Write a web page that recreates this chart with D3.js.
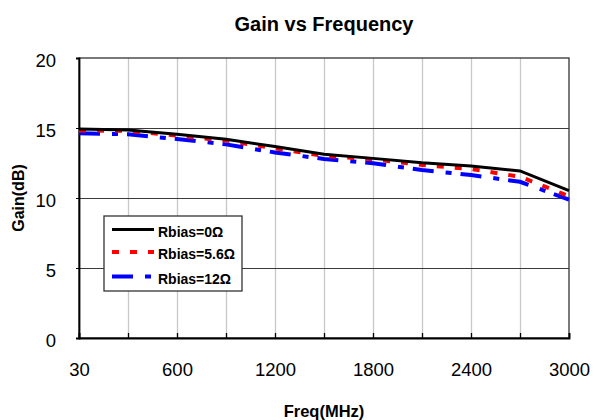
<!DOCTYPE html>
<html>
<head>
<meta charset="utf-8">
<script src="https://cdn.jsdelivr.net/npm/d3@7"></script>
<style>
  body { margin: 0; background: #fff; }
  text { font-family: Arial, "Liberation Sans", sans-serif; }
</style>
</head>
<body>
<script>
// frequency points (MHz) and gain (dB) for each Rbias
const freqs = [30, 300, 600, 900, 1200, 1500, 1800, 2100, 2400, 2700, 3000];
const gain0 = [14.92, 14.86, 14.55, 14.19, 13.68, 13.12, 12.83, 12.52, 12.29, 11.93, 10.52];
const gain56 = [14.82, 14.8, 14.45, 14.1, 13.55, 13.0, 12.76, 12.36, 12.07, 11.52, 10.13];
const gain12 = [14.62, 14.55, 14.21, 13.83, 13.25, 12.79, 12.48, 12.0, 11.64, 11.16, 9.88];
const seriesNames = ["Rbias=0Ω", "Rbias=5.6Ω", "Rbias=12Ω"];
const xLabels = [30, 600, 1200, 1800, 2400, 3000];
const yTicks = [0, 5, 10, 15, 20];

const wSvg = 594;
const hSvg = 420;
const xLeft = 79, xRight = 569, yTop = 58, yBottom = 338;

const svg = d3.select("body")
    .append("svg")
    .attr("width", wSvg)
    .attr("height", hSvg);

const xScale = d3.scalePoint(freqs, [xLeft, xRight]);
const yScale = d3.scaleLinear([0, 20], [yBottom, yTop]);

// vertical grid (light)
svg.append("g")
    .attr("transform", `translate(0, ${yBottom})`)
    .call(d3.axisBottom(xScale).tickValues(freqs.slice(1, -1)).tickSize(-(yBottom - yTop)).tickFormat(""))
    .call(g => g.select(".domain").remove())
    .call(g => g.selectAll("line").attr("stroke", "#c8c8c8").attr("stroke-width", 1.3));

// horizontal grid (dark)
svg.append("g")
    .attr("transform", `translate(${xLeft}, 0)`)
    .call(d3.axisLeft(yScale).tickValues([5, 10, 15]).tickSize(-(xRight - xLeft)).tickFormat(""))
    .call(g => g.select(".domain").remove())
    .call(g => g.selectAll("line").attr("stroke", "#3a3a3a").attr("stroke-width", 1.2));

// frame
svg.append("rect")
    .attr("x", xLeft).attr("y", yTop)
    .attr("width", xRight - xLeft).attr("height", yBottom - yTop)
    .attr("fill", "none")
    .attr("stroke", "#333")
    .attr("stroke-width", 1.3);

// x axis
let xAxis = svg.append("g")
    .attr("transform", `translate(0, ${yBottom})`)
    .call(d3.axisBottom(xScale).tickSize(-5).tickFormat(d => xLabels.includes(d) ? d : ""));
xAxis.select(".domain").attr("stroke", "#000").attr("stroke-width", 1.8);
xAxis.selectAll("line").attr("stroke", "#000").attr("stroke-width", 1.3);
xAxis.selectAll("text")
    .attr("y", 38).attr("dy", null)
    .attr("font-size", 18.5)
    .attr("font-family", "Arial, 'Liberation Sans', sans-serif")
    .attr("fill", "#000");

// y axis
let yAxis = svg.append("g")
    .attr("transform", `translate(${xLeft}, 0)`)
    .call(d3.axisLeft(yScale).tickValues(yTicks).tickSize(3));
yAxis.select(".domain").attr("stroke", "#000").attr("stroke-width", 1.8);
yAxis.selectAll("line").attr("stroke", "#000");
yAxis.selectAll("text")
    .attr("x", -23).attr("dy", null).attr("y", 8.5)
    .attr("font-size", 18.5)
    .attr("font-family", "Arial, 'Liberation Sans', sans-serif")
    .attr("fill", "#000");

// lines
const styles = [
    { color: "#000", width: 3, dash: null },
    { color: "#ff0000", width: 4, dash: "7,11" },
    { color: "#0000ff", width: 4, dash: "21,12,6,9" }
];
const allSeries = [gain0, gain56, gain12];

const dMaker = d3.line()
    .x((d, i) => xScale(freqs[i]))
    .y(d => yScale(d));

svg.append("g")
    .selectAll("path")
    .data([gain12, gain56, gain0])
    .enter()
    .append("path")
    .attr("fill", "none")
    .attr("stroke", d => styles[allSeries.indexOf(d)].color)
    .attr("stroke-width", d => styles[allSeries.indexOf(d)].width)
    .attr("stroke-dasharray", d => styles[allSeries.indexOf(d)].dash)
    .attr("d", d => dMaker(d));

// legend
const legend = svg.append("g");
legend.append("rect")
    .attr("x", 104).attr("y", 216)
    .attr("width", 138).attr("height", 75)
    .attr("fill", "#fff")
    .attr("stroke", "#333")
    .attr("stroke-width", 1.3);

const rowY = [229.5, 252, 276.5];
seriesNames.forEach((name, i) => {
    legend.append("line")
        .attr("x1", 112).attr("x2", 154)
        .attr("y1", rowY[i]).attr("y2", rowY[i])
        .attr("stroke", styles[i].color)
        .attr("stroke-width", styles[i].width)
        .attr("stroke-dasharray", styles[i].dash);
    legend.append("text")
        .attr("x", 158).attr("y", rowY[i] + 7)
        .attr("font-size", 14)
        .attr("font-weight", "bold")
        .text(name);
});

// titles
svg.append("text")
    .attr("x", (xLeft + xRight) / 2).attr("y", 31)
    .attr("text-anchor", "middle")
    .attr("font-size", 20)
    .attr("font-weight", "bold")
    .text("Gain vs Frequency");

svg.append("text")
    .attr("x", (xLeft + xRight) / 2).attr("y", 417)
    .attr("text-anchor", "middle")
    .attr("font-size", 16.5)
    .attr("font-weight", "bold")
    .text("Freq(MHz)");

svg.append("text")
    .attr("transform", `translate(24, ${(yTop + yBottom) / 2}) rotate(-90)`)
    .attr("text-anchor", "middle")
    .attr("font-size", 16)
    .attr("font-weight", "bold")
    .text("Gain(dB)");
</script>
</body>
</html>
